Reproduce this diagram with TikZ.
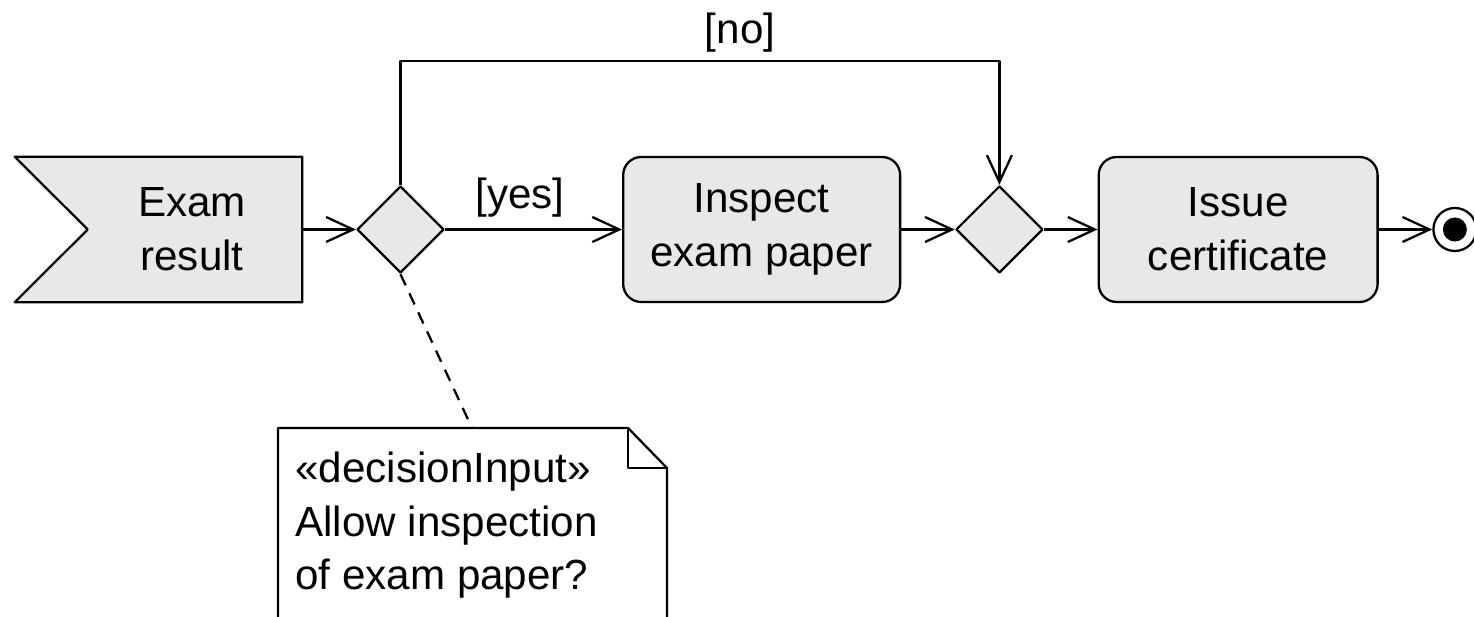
\documentclass[tikz,border=0pt]{standalone}
\usepackage{fontspec}
\setmainfont{Liberation Sans}
\usepackage{tikz}
\usetikzlibrary{shapes.geometric, arrows.meta, positioning, calc}
\definecolor{grisNodo}{HTML}{E8E8E8}

\begin{document}
\begin{tikzpicture}[
        x=0.02cm, y=-0.02cm,
        node distance=1.07cm,
        font=\fontsize{24}{30.7}\selectfont,
        lin/.style={line width=1.3pt, line join=round},
        evtbox/.style={minimum width=5.74cm, minimum height=2.9cm, inner sep=0pt},
        act/.style={lin, draw, fill=grisNodo, rounded corners=0.36cm,
            minimum width=5.54cm, minimum height=2.9cm, align=center},
        dec/.style={lin, draw, fill=grisNodo, diamond, aspect=1, inner sep=0pt,
            minimum width=1.74cm, minimum height=1.74cm},
        flow/.style={lin, -{Straight Barb[length=0.54cm, width=0.5cm]}},
        nota/.style={lin, draw, fill=white}
    ]
        \useasboundingbox (0,0) rectangle (1474,617);
        \clip (0,0) rectangle (1474,617);

        % accept event
        \node[evtbox] (evt) at (158.5,229.5) {};
        \draw[lin, fill=grisNodo] (evt.north west) -- (evt.north east) -- (evt.south east)
            -- (evt.south west) -- ($(evt.west)+(73,0)$) -- cycle;
        \node[align=center] (evtTxt) at ([xshift=0.67cm]evt.center) {Exam\\result};

        \node[dec, right=of evt] (d1) {};
        \node[act, right=3.54cm of d1] (insp) {Inspect\\exam paper};
        \node[dec, right=of insp] (d2) {};
        \node[act, minimum width=5.58cm, right=of d2] (issue) {Issue\\certificate};
        \node[lin, draw, circle, inner sep=0pt, minimum size=0.86cm, right=of issue] (fin) {};
        \node[circle, fill=black, inner sep=0pt, minimum size=0.48cm] (finDot) at (fin.center) {};

        \draw[flow] (evt) -- (d1);
        \draw[flow] (d1) -- (insp);
        \draw[flow] (insp) -- (d2);
        \draw[flow] (d2) -- (issue);
        \draw[flow] (issue) -- (fin);
        \draw[flow] (d1.north) |- ([yshift=2.48cm]d2.north) -- (d2.north);

        \node (yesLbl) at (520,198) {[yes]};
        \node (noLbl) at (740,33) {[no]};

        % note
        \draw[nota] (278,650) -- (278,428) -- (628,428) -- (667,468) -- (667,650);
        \draw[lin] (628,428) |- (667,468);
        \coordinate (notePin) at (472,428);
        \node[anchor=base west, align=left, inner sep=0pt] (note) at (295,590)
            {«decisionInput»\\Allow inspection\\of exam paper?};
        \draw[lin, dash pattern=on 7pt off 5pt] (d1.south) -- (notePin);
    \end{tikzpicture}
\end{document}
